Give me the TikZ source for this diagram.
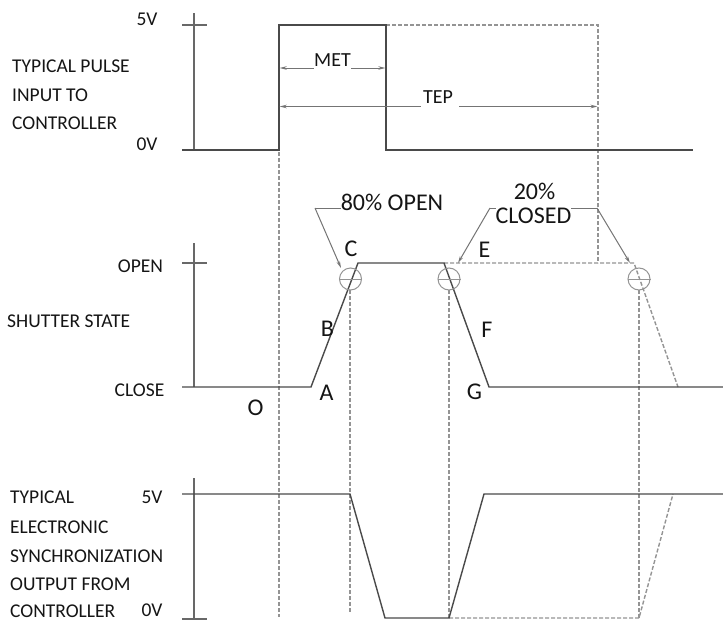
\documentclass[tikz,border=0pt]{standalone}
\usepackage{fontspec}
\setmainfont{Carlito}
\usetikzlibrary{arrows.meta}
\definecolor{wavec}{HTML}{4A4A4A}
\definecolor{axisc}{HTML}{686868}
\definecolor{dashc}{HTML}{949494}
\definecolor{leadc}{HTML}{747474}
\definecolor{txtc}{HTML}{151515}
\tikzset{
  wave/.style={draw=wavec, line width=1.4pt, line join=miter},
  axisl/.style={draw=axisc, line width=1.3pt},
  dashl/.style={draw=dashc, line width=1.4pt, dash pattern=on 4pt off 2pt},
  leadl/.style={draw=leadc, line width=1pt},
  dimtip/.style={-{Stealth[length=7pt,width=3.5pt]}, draw=leadc, line width=1pt},
  circ/.style={circle, draw=dashc, line width=1pt, minimum size=22pt, inner sep=0pt},
  lbl/.style={font=\fontsize{19.5}{19.5}\selectfont, text=txtc, inner sep=0pt},
  lbll/.style={lbl, anchor=west},
  dimlbl/.style={font=\fontsize{20}{20}\selectfont, text=txtc, inner sep=0pt},
  biglbl/.style={font=\fontsize{24}{24}\selectfont, text=txtc, inner sep=0pt},
}
\begin{document}
\begin{tikzpicture}[x=1pt, y=-1pt]
\useasboundingbox (0,0) rectangle (723,621);
\fill[white] (0,0) rectangle (723,621);

% ---------- top: pulse input ----------
\draw[axisl] (194,13) -- (194,150);
\draw[axisl] (182,25) -- (207,25);
\draw[dashl] (386,25) -- (598,25) -- (598,263);
\draw[dashl] (279,152) -- (279,617);
\draw[wave] (182,150) -- (279,150) -- (279,25) -- (386,25) -- (386,150) -- (693,150);

\node[lbl] (v5a) at (147,19) {5V};
\node[lbl] (v0a) at (147,144) {0V};
\node[lbll] (t1) at (12,66) {TYPICAL PULSE};
\node[lbll] (t2) at (12,95) {INPUT TO};
\node[lbll] (t3) at (12,123.5) {CONTROLLER};

\node[dimlbl] (met) at (332.5,60.5) {MET};
\coordinate (metL) at (279.7,68);
\coordinate (metR) at (385.3,68);
\draw[dimtip] (met.south west |- metL) -- (metL);
\draw[dimtip] (met.south east |- metR) -- (metR);

\node[dimlbl] (tep) at (438,97) {TEP};
\coordinate (tepL) at (279.7,106.5);
\coordinate (tepR) at (597.5,106.5);
\draw[dimtip] ([xshift=-2pt]tep.south west |- tepL) -- (tepL);
\draw[dimtip] ([xshift=6pt]tep.south east |- tepR) -- (tepR);

% ---------- middle: shutter state ----------
\draw[axisl] (194,243) -- (194,387);
\draw[axisl] (182,263) -- (207,263);
\draw[dashl] (350,290) -- (350,613);
\draw[dashl] (449,290) -- (449,618);
\draw[dashl] (639,290) -- (639,618);
\draw[dashl] (444,263) -- (634,263) -- (678,387);
\draw[wave] (182,387) -- (311,387) -- (358,263) -- (444,263) -- (489,387) -- (723,387);

\node[circ] (c1) at (350.5,279) {};
\node[circ] (c2) at (449,279) {};
\node[circ] (c3) at (639,279) {};
\draw[draw=dashc, line width=1pt] (c1.west) -- (c1.east);
\draw[draw=dashc, line width=1pt] (c2.west) -- (c2.east);
\draw[draw=dashc, line width=1pt] (c3.west) -- (c3.east);

\node[lbl] (open) at (140.5,266.5) {OPEN};
\node[lbll] (sst) at (7,321) {SHUTTER STATE};
\node[lbl] (close) at (139.5,390) {CLOSE};

\node[biglbl] (lO) at (255.5,407.5) {O};
\node[biglbl] (lA) at (326.5,392.5) {A};
\node[biglbl] (lB) at (327.5,329) {B};
\node[biglbl] (lC) at (351,249) {C};
\node[biglbl] (lE) at (484.5,250) {E};
\node[biglbl] (lF) at (487,329.5) {F};
\node[biglbl] (lG) at (474.5,392) {G};

\node[biglbl] (p80) at (392,202.5) {80\% OPEN};
\coordinate (k80) at (315,208);
\coordinate (a80) at (341,268);
\draw[leadl] (p80.south west |- k80) -- (k80);
\draw[dimtip] (k80) -- (a80);

\coordinate (k20L) at (490,208);
\coordinate (k20R) at (597,208);
\coordinate (a20L) at (458,263);
\coordinate (a20R) at (630,263);
\draw[leadl] (k20L) -- (k20R);
\draw[dimtip] (k20L) -- (a20L);
\draw[dimtip] (k20R) -- (a20R);
\node[biglbl] (p20) at (534.5,191) {20\%};
\node[biglbl, fill=white, inner ysep=0.5pt] (pcl) at (533.5,215.5) {CLOSED};

% ---------- bottom: sync output ----------
\draw[axisl] (194,478) -- (194,620);
\draw[axisl] (182,619) -- (207,619);
\draw[dashl] (449,618) -- (639,618) -- (673,494);
\draw[wave] (182,494) -- (350,494) -- (385,618) -- (449,618) -- (484,494) -- (723,494);

\node[lbl] (v5b) at (152,497) {5V};
\node[lbl] (v0b) at (152,610) {0V};
\node[lbll] (b1) at (10,497) {TYPICAL};
\node[lbll] (b2) at (10,527) {ELECTRONIC};
\node[lbll] (b3) at (10,556) {SYNCHRONIZATION};
\node[lbll] (b4) at (10,584.5) {OUTPUT FROM};
\node[lbll] (b5) at (10,611) {CONTROLLER};
\end{tikzpicture}
\end{document}
